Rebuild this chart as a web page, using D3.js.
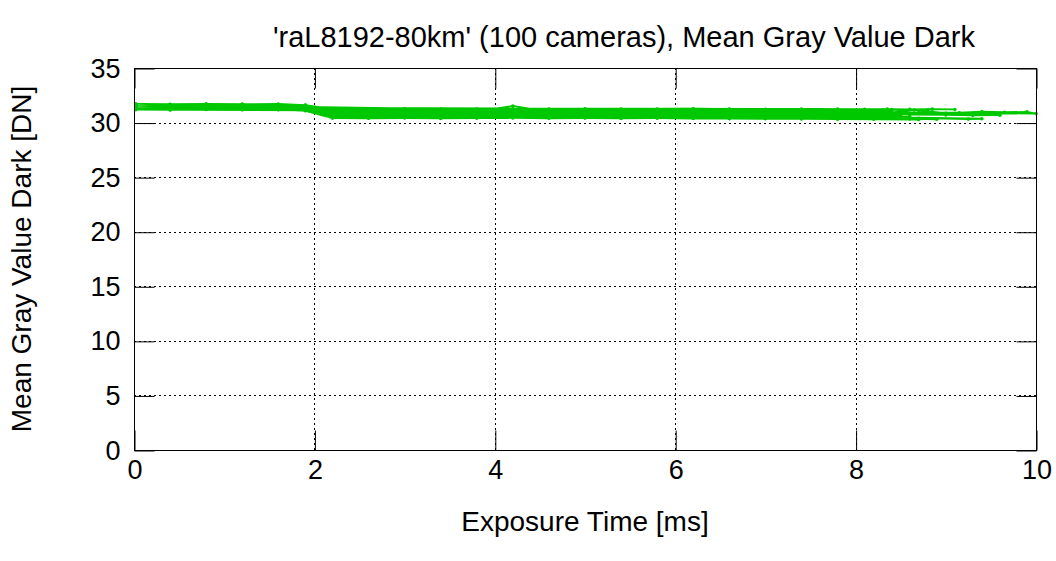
<!DOCTYPE html>
<html>
<head>
<meta charset="utf-8">
<script src="https://cdn.jsdelivr.net/npm/d3@7"></script>
<style>
  body { margin: 0; background: #fff; }
  svg { display: block; }
  text { font-family: "Liberation Sans", Arial, Helvetica, sans-serif; fill: #000; }
</style>
</head>
<body>
<svg id="chart" width="1056" height="561"></svg>
<script>
// Exposure times [ms] shared by every camera up to 7.8 ms
const exposureGrid = [0.02, 0.4, 0.8, 1.2, 1.6, 1.9, 2.2, 2.6, 3.0, 3.4, 3.8, 4.2, 4.6, 5.0, 5.4, 5.8, 6.2, 6.6, 7.0, 7.4, 7.8];

// Mean gray value dark [DN] of each camera on exposureGrid
const cameraValues = [
  [31.63,31.60,31.65,31.61,31.62,31.55,31.06,31.03,31.08,31.04,31.05,31.07,31.02,31.06,31.04,31.03,31.07,31.05,31.02,31.04,31.03],
  [31.46,31.44,31.47,31.43,31.45,31.38,30.86,30.84,30.88,30.83,30.85,30.87,30.82,30.86,30.84,30.85,30.83,30.87,30.84,30.82,30.85],
  [31.31,31.28,31.32,31.29,31.30,31.22,30.71,30.69,30.72,30.68,30.70,30.73,30.69,30.71,30.68,30.70,30.72,30.69,30.67,30.70,30.68],
  [31.56,31.53,31.57,31.54,31.55,31.47,31.21,31.19,31.22,31.18,31.20,31.23,31.19,31.21,31.18,31.20,31.22,31.19,31.17,31.20,31.18],
  [31.21,31.18,31.22,31.19,31.20,31.12,30.51,30.48,30.52,30.49,30.50,30.53,30.47,30.51,30.49,30.50,30.48,30.46,30.45,30.47,30.44],
  [31.71,31.68,31.72,31.69,31.70,31.60,31.26,31.24,31.27,31.23,31.25,31.28,31.24,31.26,31.23,31.25,31.27,31.24,31.22,31.25,31.23],
  [31.39,31.36,31.40,31.37,31.38,31.30,30.79,30.77,30.80,30.76,30.78,30.81,30.77,30.79,30.76,30.78,30.80,30.77,30.75,30.78,30.76],
  [31.51,31.48,31.52,31.49,31.50,31.43,30.96,30.94,30.97,30.93,30.95,30.98,30.94,30.96,30.93,30.95,30.97,30.94,30.92,30.95,30.93],
  [31.26,31.23,31.27,31.24,31.25,31.16,30.46,30.44,30.47,30.43,30.45,30.48,30.44,30.46,30.43,30.45,30.42,30.40,30.41,30.38,30.36],
  [31.59,31.56,31.60,31.57,31.58,31.50,31.01,30.99,31.02,30.98,31.00,31.03,30.99,31.01,30.98,31.00,31.02,30.99,30.97,31.00,30.98],
  [31.43,31.40,31.44,31.41,31.42,31.34,30.66,30.64,30.67,30.63,30.65,30.68,30.64,30.66,30.63,30.65,30.67,30.64,30.62,30.65,30.63],
  [31.67,31.64,31.68,31.65,31.66,31.58,31.16,31.14,31.17,31.13,31.15,31.18,31.14,31.16,31.13,31.15,31.17,31.14,31.12,31.15,31.13],
  [31.34,31.31,31.35,31.32,31.33,31.25,30.61,30.59,30.62,30.58,30.60,30.63,30.59,30.61,30.58,30.60,30.57,30.55,30.52,30.50,30.48],
  [31.49,31.46,31.50,31.47,31.48,31.40,30.91,30.89,30.92,30.88,30.90,30.93,30.89,30.91,30.88,30.90,30.92,30.89,30.87,30.90,30.88],
  [31.19,31.16,31.20,31.17,31.18,31.08,30.41,30.39,30.42,30.38,30.40,30.43,30.39,30.41,30.38,30.40,30.37,30.36,30.35,30.33,30.31],
  [31.61,31.58,31.62,31.59,31.60,31.52,31.11,31.09,31.12,31.08,31.10,31.13,31.09,31.11,31.08,31.10,31.12,31.09,31.07,31.10,31.08],
  [31.37,31.34,31.38,31.35,31.36,31.28,30.76,30.74,30.77,30.73,30.75,30.78,30.74,30.76,30.73,30.75,30.77,30.74,30.72,30.75,30.73],
  [31.53,31.50,31.54,31.51,31.52,31.44,31.01,30.99,31.02,30.98,31.00,31.52,30.99,31.01,30.98,31.00,31.02,30.99,30.97,31.00,30.98],
  [31.29,31.26,31.30,31.27,31.28,31.20,30.56,30.54,30.57,30.53,30.55,30.58,30.54,30.56,30.53,30.55,30.57,30.54,30.52,30.55,30.53],
  [31.45,31.42,31.46,31.43,31.44,31.36,30.89,30.87,30.90,30.86,30.88,30.91,30.87,30.89,30.86,30.88,30.90,30.87,30.85,30.88,30.86]
];

// Readings beyond 7.8 ms, [exposure ms, value DN], up to each camera's longest exposure
const cameraTails = [
  [[8.2,31.00]],
  [[8.1,30.83],[8.4,30.86]],
  [[8.1,30.66]],
  [[8.1,31.17],[8.4,31.19],[8.8,31.16]],
  [[8.0,30.42],[8.3,30.40]],
  [[8.1,31.22],[8.35,31.24],[8.6,31.21],[8.85,31.23],[9.1,31.20]],
  [[8.2,30.74],[8.6,30.77]],
  [[8.0,30.92]],
  [[8.2,30.35],[8.6,30.33],[8.9,30.30]],
  [[8.2,30.96],[8.7,30.92],[9.15,30.90],[9.4,31.00],[9.65,30.95],[9.9,30.98],[10.0,30.82]],
  [[8.1,30.61],[8.5,30.64]],
  [[8.3,31.14]],
  [[8.2,30.45],[8.7,30.40],[9.25,30.32],[9.4,30.35]],
  [[8.2,30.87]],
  [[8.2,30.30],[8.7,30.28]],
  [[8.1,31.06],[8.4,31.09]],
  [[8.2,30.72],[8.6,30.74],[9.0,30.70],[9.3,30.66],[9.6,30.68]],
  [[8.1,30.97]],
  [[8.2,30.50],[8.6,30.52]],
  [[8.3,30.84],[8.65,31.15],[9.0,30.86]]
];

const xTicks = [0, 2, 4, 6, 8, 10];
const yTicks = [0, 5, 10, 15, 20, 25, 30, 35];

const titleText = "'raL8192-80km' (100 cameras), Mean Gray Value Dark";
const xLabel = "Exposure Time [ms]";
const yLabel = "Mean Gray Value Dark [DN]";
const seriesColor = "#00c800";
const tickFont = 27, labelFont = 28, titleFont = 29;

const svg = d3.select("#chart");
const W = 1056, H = 561;
const m = { left: 134, right: 1036, top: 68, bottom: 450 };

const x = d3.scaleLinear().domain([0, 10]).range([m.left, m.right]);
const y = d3.scaleLinear().domain([0, 35]).range([m.bottom, m.top]);

svg.append("rect").attr("width", W).attr("height", H).attr("fill", "#fff");

// dotted grid
const grid = svg.append("g").attr("stroke", "#000").attr("stroke-width", 1)
  .attr("stroke-dasharray", "2,3").attr("fill", "none");
yTicks.filter(v => v > 0 && v < 35).forEach(v => {
  grid.append("line").attr("x1", m.left).attr("x2", m.right)
    .attr("y1", Math.round(y(v)) + 0.5).attr("y2", Math.round(y(v)) + 0.5);
});
xTicks.filter(v => v > 0 && v < 10).forEach(v => {
  grid.append("line").attr("y1", m.top).attr("y2", m.bottom)
    .attr("x1", Math.round(x(v)) + 0.5).attr("x2", Math.round(x(v)) + 0.5);
});

// all cameras chained into one trace, the last reading of a camera joining the next one's first
const points = [];
cameraValues.forEach((vals, i) => {
  exposureGrid.forEach((t, j) => points.push([t, vals[j]]));
  cameraTails[i].forEach(p => points.push(p));
});

const line = d3.line().x(d => x(d[0])).y(d => y(d[1]));
svg.append("path").datum(points)
  .attr("d", line).attr("fill", "none")
  .attr("stroke", seriesColor).attr("stroke-width", 1.8);

svg.append("g").selectAll("circle").data(points).join("circle")
  .attr("cx", d => x(d[0])).attr("cy", d => y(d[1])).attr("r", 1.8)
  .attr("fill", seriesColor);

// axes with inward ticks, mirrored on the opposite sides
const tick = 20;
const axB = d3.axisBottom(x).tickValues(xTicks).tickSizeInner(-tick).tickSizeOuter(0).tickPadding(9).tickFormat(d3.format("d"));
const axT = d3.axisTop(x).tickValues(xTicks).tickSizeInner(-tick).tickSizeOuter(0).tickFormat("");
const axL = d3.axisLeft(y).tickValues(yTicks).tickSizeInner(-tick).tickSizeOuter(0).tickPadding(14).tickFormat(d3.format("d"));
const axR = d3.axisRight(y).tickValues(yTicks).tickSizeInner(-tick).tickSizeOuter(0).tickFormat("");

function styleAxis(g) {
  g.select(".domain").remove();
  g.selectAll("line").attr("stroke", "#000").attr("stroke-width", 1);
  g.selectAll("text").attr("font-size", tickFont).attr("fill", "#000")
    .style("font-family", "'Liberation Sans', Arial, sans-serif");
}
svg.append("g").attr("transform", `translate(0.5,${m.bottom + 0.5})`).call(axB).call(styleAxis);
svg.append("g").attr("transform", `translate(0.5,${m.top + 0.5})`).call(axT).call(styleAxis);
svg.append("g").attr("transform", `translate(${m.left + 0.5},0.5)`).call(axL).call(styleAxis);
svg.append("g").attr("transform", `translate(${m.right + 0.5},0.5)`).call(axR).call(styleAxis);

// frame
svg.append("rect").attr("x", m.left + 0.5).attr("y", m.top + 0.5)
  .attr("width", m.right - m.left).attr("height", m.bottom - m.top)
  .attr("fill", "none").attr("stroke", "#000").attr("stroke-width", 1);

svg.append("text").attr("x", 624).attr("y", 47).attr("text-anchor", "middle")
  .attr("font-size", titleFont).text(titleText);
svg.append("text").attr("x", 585).attr("y", 531).attr("text-anchor", "middle")
  .attr("font-size", labelFont).text(xLabel);
svg.append("text").attr("transform", `translate(31,${(m.top + m.bottom) / 2}) rotate(-90)`)
  .attr("text-anchor", "middle").attr("font-size", labelFont).text(yLabel);
</script>
</body>
</html>
